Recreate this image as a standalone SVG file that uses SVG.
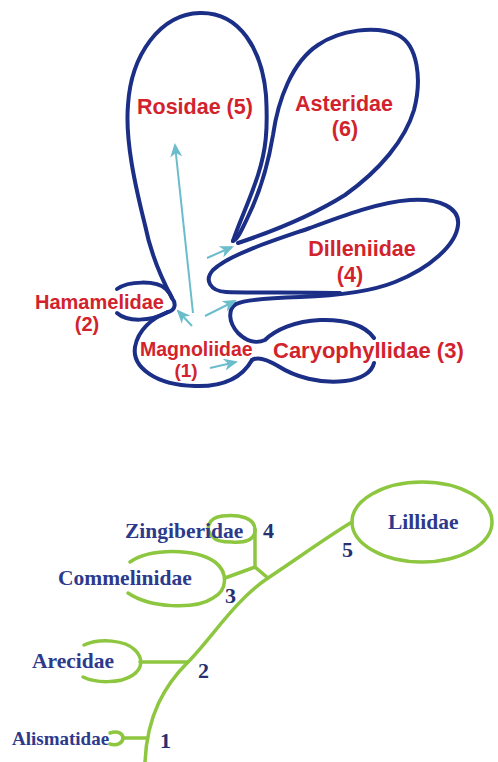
<svg xmlns="http://www.w3.org/2000/svg" width="498" height="762" viewBox="0 0 498 762">
<defs>
<marker id="ah" viewBox="0 0 14 12" refX="12" refY="6" markerWidth="14" markerHeight="12" markerUnits="userSpaceOnUse" orient="auto">
<path d="M0,0 L14,6 L0,12 L4,6 z" fill="#6cbdcc"/>
</marker>
<style>
.ol{fill:none;stroke:#1c2f87;stroke-width:4;stroke-linecap:round;stroke-linejoin:round}
.rt{font-family:"Liberation Sans",Arial,sans-serif;font-weight:bold;fill:#d2232d;font-size:21.5px}
.ar{fill:none;stroke:#6cbdcc;stroke-width:2;marker-end:url(#ah)}
.gr{fill:none;stroke:#8dc63f;stroke-width:3.5;stroke-linecap:round}
.bt{font-family:"Liberation Serif","Times New Roman",serif;font-weight:bold;fill:#2d3a8c;font-size:21.5px}
.num{font-size:22px;fill:#243070}
</style>
</defs>
<rect width="498" height="762" fill="#ffffff"/>

<!-- Top diagram: subclasses of dicots -->
<g id="rosidae">
<path class="ol" d="M168,312 C176,310 176,303 172,298 C165,285 152,260 145,225 C135,185 125,140 128,105 C131,55 160,14 200,13 C240,12 262,50 266,95 C268,130 266,150 258,175 C250,200 238,225 233,241"/>
<text class="rt" x="137" y="114">Rosidae (5)</text>
</g>
<g id="asteridae">
<path class="ol" d="M233,241 C238,240 244,225 252,208 C260,190 268,165 273,135 C278,100 292,62 318,45 C340,30 375,25 398,35 C418,45 422,80 414,110 C405,140 380,170 345,195 C305,220 262,235 238,243"/>
<text class="rt" x="344" y="111" text-anchor="middle">Asteridae</text>
<text class="rt" x="345" y="136" text-anchor="middle">(6)</text>
</g>
<g id="dilleniidae">
<path class="ol" d="M340,293 C300,292 250,293 226,292 C210,291 204,280 213,270 C230,254 275,240 310,228 C345,215 380,202 410,200 C440,198 460,208 458,225 C456,245 430,268 395,282 C370,292 330,296 300,297 C265,298 244,300 236,304"/>
<text class="rt" x="362" y="256" text-anchor="middle">Dilleniidae</text>
<text class="rt" x="350" y="282" text-anchor="middle">(4)</text>
</g>
<g id="hamamelidae">
<path class="ol" d="M117,289 C128,281 156,280 166,289 C169,292 171,295 172,298"/>
<path class="ol" d="M117,313 C127,322 150,322 168,312"/>
<text class="rt" x="35" y="309" style="font-size:20px">Hamamelidae</text>
<text class="rt" x="87" y="331" text-anchor="middle" style="font-size:20px">(2)</text>
</g>
<g id="magnoliidae">
<path class="ol" d="M168,312 C152,318 138,330 135,347 C132,367 155,385 195,386 C225,387 243,376 252,360"/>
<text class="rt" x="140" y="356" style="font-size:19.5px">Magnoliidae</text>
<text class="rt" x="186" y="377" text-anchor="middle" style="font-size:19px">(1)</text>
</g>
<g id="caryophyllidae">
<path class="ol" d="M236,304 C228,309 228,322 238,333 C246,341 256,344 265,340 C275,330 295,321 320,320 C345,319 365,325 374,338"/>
<path class="ol" d="M252,360 C258,356 268,360 278,366 C295,377 320,384 345,381 C362,379 372,372 374,363"/>
<text class="rt" x="273" y="358" style="font-size:22px">Caryophyllidae (3)</text>
</g>
<g id="top-connectors">
<path class="ar" d="M193,313 L175,145"/>
<path class="ar" d="M192,326 L178,311"/>
<path class="ar" d="M205,316 L235,301"/>
<path class="ar" d="M207,258 L232,247"/>
<path class="ar" d="M210,368 L236,362"/>
</g>

<!-- Bottom diagram: subclasses of monocots -->
<g id="bottom-connectors">
<path class="gr" d="M145,762 C147,715 165,685 188,662 S235,600 268,578 S330,535 352,522"/>
<path class="gr" d="M123,738 L147,738"/>
<path class="gr" d="M140,662 L188,662"/>
<path class="gr" d="M225,578 L255,567 L268,578"/>
<path class="gr" d="M255,529 L255,567"/>
<g class="bt num">
<text x="160" y="748">1</text>
<text x="198" y="678">2</text>
<text x="225" y="603">3</text>
<text x="263" y="538">4</text>
<text x="342" y="557">5</text>
</g>
</g>
<g id="alismatidae">
<path class="gr" d="M110,733 C118,730 123,734 123,738 C123,743 117,746 110,744"/>
<text class="bt" x="12" y="745" style="font-size:19px">Alismatidae</text>
</g>
<g id="arecidae">
<path class="gr" d="M84,645 C100,638 125,640 135,650 C143,658 143,668 133,675 C120,684 95,683 83,677"/>
<text class="bt" x="32" y="668">Arecidae</text>
</g>
<g id="commelinidae">
<path class="gr" d="M130,562 C150,548 195,548 215,562 C228,572 228,590 213,598 C195,610 150,608 128,593"/>
<text class="bt" x="58" y="585">Commelinidae</text>
</g>
<g id="zingiberidae">
<path class="gr" d="M213,537 C205,530 207,518 222,516 C240,514 255,518 255,530 C255,540 245,543 232,542 C222,542 215,540 213,537"/>
<text class="bt" x="125" y="538">Zingiberidae</text>
</g>
<g id="lillidae">
<ellipse class="gr" cx="422" cy="522" rx="70" ry="40"/>
<text class="bt" x="388" y="529">Lillidae</text>
</g>
</svg>
